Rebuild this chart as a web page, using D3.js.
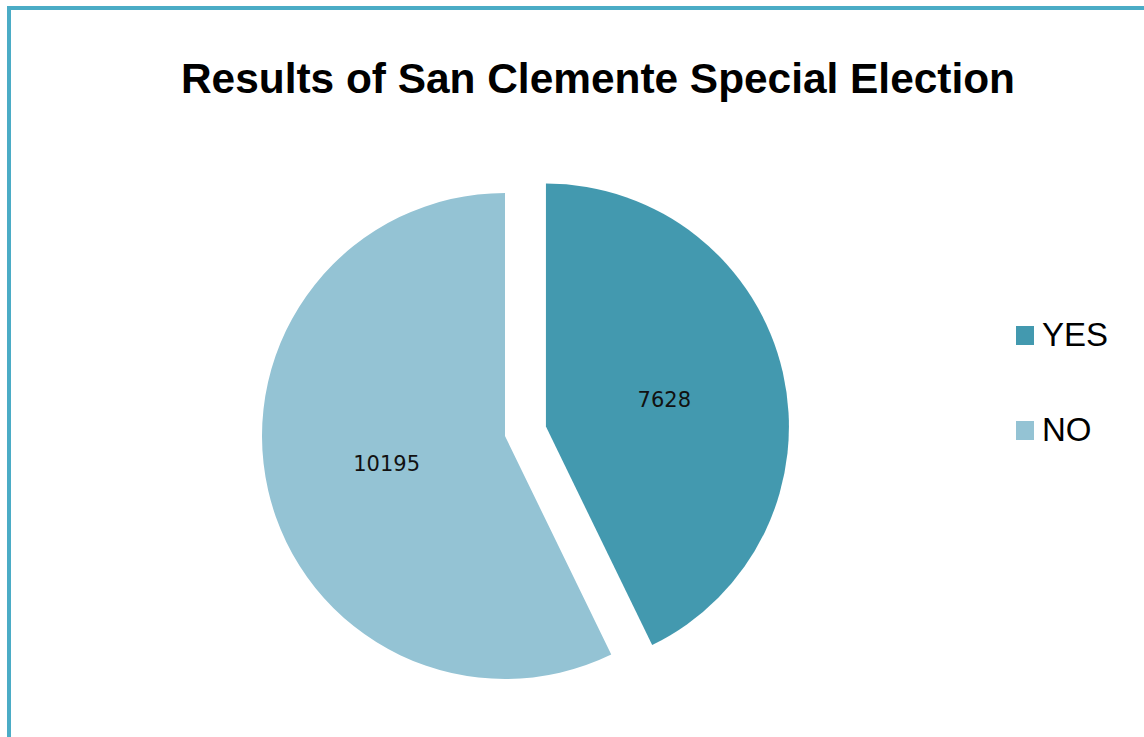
<!DOCTYPE html>
<html>
  <head>
    <meta charset="utf-8">
    <title>Results of San Clemente Special Election</title>
    <style>
      body { margin: 0; background: #fff; }
      svg { display: block; }
    </style>
  </head>
  <body>
    <div id="chart"></div>
    <script src="https://cdn.jsdelivr.net/npm/d3@7"></script>
    <script>
      // data
      var categories = ["YES", "NO"];
      var votes = [7628, 10195];
      var colors = ["#4399AF", "#94C3D4"];
      var explode = [42, 0];

      var W = 1144, H = 737;
      var svg = d3.select("#chart").append("svg").attr("width", W).attr("height", H);

      // frame (only left and top edges are visible in the picture)
      svg.append("path")
        .attr("d", "M9,737 V8 H1144")
        .attr("fill", "none").attr("stroke", "#4BACC6").attr("stroke-width", 4);

      // title, stretched to the width it has in the picture
      svg.append("text")
        .attr("x", 181).attr("y", 93)
        .attr("textLength", 834).attr("lengthAdjust", "spacingAndGlyphs")
        .style("font-family", "Liberation Sans, Arial, sans-serif")
        .style("font-weight", "bold").style("font-size", "43px")
        .text("Results of San Clemente Special Election");

      var cx = 505, cy = 436, r = 243;
      var pie = d3.pie().sort(null).value(function(d) { return d; });
      var arcs = pie(votes);
      var arc = d3.arc().innerRadius(0).outerRadius(r);
      var g = svg.append("g").attr("transform", "translate(" + cx + "," + cy + ")");

      function offset(d, i) {
        var a = (d.startAngle + d.endAngle) / 2;
        return [Math.sin(a) * explode[i], -Math.cos(a) * explode[i]];
      }

      var slices = g.selectAll("g.slice").data(arcs).enter().append("g")
        .attr("class", "slice")
        .attr("transform", function(d, i) { var o = offset(d, i); return "translate(" + o[0] + "," + o[1] + ")"; });

      slices.append("path")
        .attr("d", arc)
        .attr("fill", function(d, i) { return colors[i]; });

      var labelArc = d3.arc().innerRadius(r * 0.5).outerRadius(r * 0.5);
      slices.append("text")
        .attr("transform", function(d) { var c = labelArc.centroid(d); return "translate(" + c[0] + "," + (c[1] + 8) + ")"; })
        .attr("text-anchor", "middle")
        .style("font-family", "DejaVu Sans, sans-serif").style("font-size", "21px")
        .attr("fill", "#111")
        .text(function(d) { return d.data; });

      // legend
      var legend = svg.selectAll("g.legend").data(categories).enter().append("g")
        .attr("class", "legend")
        .attr("transform", function(d, i) { return "translate(1016," + (326 + i * 95) + ")"; });
      legend.append("rect").attr("width", 18).attr("height", 19)
        .attr("fill", function(d, i) { return colors[i]; });
      legend.append("text").attr("x", 26).attr("y", 20)
        .style("font-family", "Liberation Sans, Arial, sans-serif").style("font-size", "33px")
        .text(function(d) { return d; });
    </script>
  </body>
</html>
